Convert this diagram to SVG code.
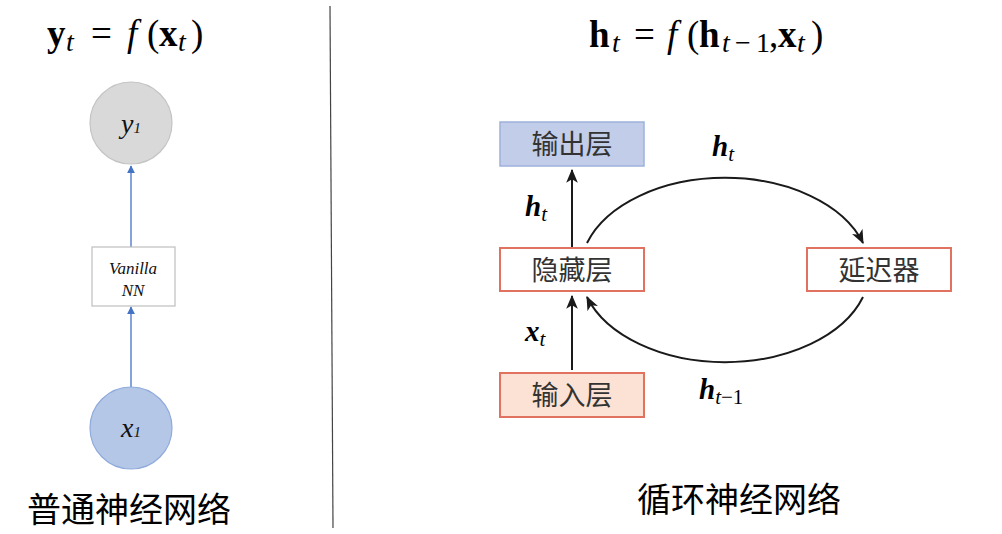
<svg xmlns="http://www.w3.org/2000/svg" width="1002" height="534" viewBox="0 0 1002 534">
<defs>
<style>
.math{font-family:"Liberation Serif","DejaVu Serif",serif;fill:#000;}
.b{font-weight:bold;}
.i{font-style:italic;}
.n{font-weight:normal;}
.cjk{font-family:"Noto Sans CJK SC","Noto Sans",sans-serif;}
.lbl{font-size:34px;fill:#000;}
.box{font-size:27px;fill:#333;text-anchor:middle;}
.red{stroke:#e0725f;stroke-width:2;}
.blue{stroke:#4472c4;stroke-width:1.3;fill:none;}
.blk{stroke:#1a1a1a;stroke-width:2;fill:none;}
.script{font-family:"Liberation Serif","DejaVu Serif",serif;font-style:italic;fill:#111;text-anchor:middle;}
</style>
<marker id="ab" viewBox="0 0 10 10" refX="9" refY="5" markerWidth="8" markerHeight="8" markerUnits="userSpaceOnUse" orient="auto">
<path d="M0,0 L10,5 L0,10 z" fill="#4472c4"/>
</marker>
<marker id="ak" viewBox="0 0 12 10" refX="11" refY="5" markerWidth="14" markerHeight="12" markerUnits="userSpaceOnUse" orient="auto">
<path d="M0,0 L12,5 L0,10 L3,5 z" fill="#1a1a1a"/>
</marker>
</defs>
<rect width="1002" height="534" fill="#fff"/>

<line x1="330" y1="6" x2="333" y2="528" stroke="#444" stroke-width="1.2"/>

<text class="math" y="46" font-size="37"><tspan class="b" x="47">y</tspan><tspan class="i" font-size="28" x="66" y="51">t</tspan><tspan x="91" y="46">=</tspan><tspan class="i" x="127">f</tspan><tspan x="147">(</tspan><tspan class="b" x="159">x</tspan><tspan class="i" font-size="28" x="178" y="51">t</tspan><tspan x="191" y="46">)</tspan></text>
<text class="math" y="47" font-size="37"><tspan class="b" x="589">h</tspan><tspan class="i" font-size="28" x="612" y="52">t</tspan><tspan x="634" y="47">=</tspan><tspan class="i" x="667">f</tspan><tspan x="687">(</tspan><tspan class="b" x="699">h</tspan><tspan class="i" font-size="28" x="722" y="52">t</tspan><tspan font-size="28" x="735">−</tspan><tspan font-size="28" x="756">1</tspan><tspan x="769" y="47">,</tspan><tspan class="b" x="778">x</tspan><tspan class="i" font-size="28" x="797" y="52">t</tspan><tspan x="811" y="47">)</tspan></text>

<g id="connectors">
<line class="blue" x1="131" y1="387" x2="131" y2="307" marker-end="url(#ab)"/>
<line class="blue" x1="131" y1="247" x2="131" y2="166" marker-end="url(#ab)"/>
<line class="blk" x1="572" y1="248" x2="572" y2="170" marker-end="url(#ak)"/>
<line class="blk" x1="572" y1="370" x2="572" y2="296" marker-end="url(#ak)"/>
<path class="blk" d="M587 243 A145 94 0 0 1 863 243" marker-end="url(#ak)"/>
<path class="blk" d="M863 297 A145 94 0 0 1 587 297" marker-end="url(#ak)"/>
</g>

<g id="node-y1">
<circle cx="131" cy="123" r="41" fill="#d9d9d9" stroke="#c4c4c4" stroke-width="1.2"/>
<text class="script" x="131" y="133" font-size="28">y<tspan font-size="15">1</tspan></text>
</g>
<g id="node-vanilla">
<rect x="92" y="247" width="83" height="59" fill="#fff" stroke="#bfbfbf" stroke-width="1.2"/>
<text class="script" x="133" y="274" font-size="17">Vanilla</text>
<text class="script" x="133" y="296" font-size="17">NN</text>
</g>
<g id="node-x1">
<circle cx="131" cy="428" r="41" fill="#b4c7e7" stroke="#8faadc" stroke-width="1.2"/>
<text class="script" x="131" y="437" font-size="28">x<tspan font-size="15">1</tspan></text>
</g>

<g id="node-output">
<rect x="500" y="122" width="144" height="44" fill="#c2cdea" stroke="#9fb1dc" stroke-width="1.5"/>
<text class="cjk box" x="572" y="154">输出层</text>
</g>
<g id="node-hidden">
<rect class="red" x="500" y="248" width="144" height="43" fill="#fff"/>
<text class="cjk box" x="572" y="280">隐藏层</text>
</g>
<g id="node-delay">
<rect class="red" x="807" y="248" width="144" height="43" fill="#fff"/>
<text class="cjk box" x="879" y="280">延迟器</text>
</g>
<g id="node-input">
<rect class="red" x="500" y="373" width="144" height="44" fill="#fbe2d4"/>
<text class="cjk box" x="572" y="405">输入层</text>
</g>

<text class="math b i" x="525" y="216" font-size="29">h<tspan class="n" font-size="21" dy="5">t</tspan></text>
<text class="math b i" x="525" y="341" font-size="29">x<tspan class="n" font-size="21" dy="5">t</tspan></text>
<text class="math b i" x="712" y="156" font-size="29">h<tspan class="n" font-size="21" dy="5">t</tspan></text>
<text class="math b i" x="699" y="399" font-size="29">h<tspan class="n" font-size="21" dy="5">t</tspan><tspan class="n" font-size="21" font-style="normal">−1</tspan></text>

<text class="cjk lbl" x="27" y="522">普通神经网络</text>
<text class="cjk lbl" x="637" y="512">循环神经网络</text>
</svg>
